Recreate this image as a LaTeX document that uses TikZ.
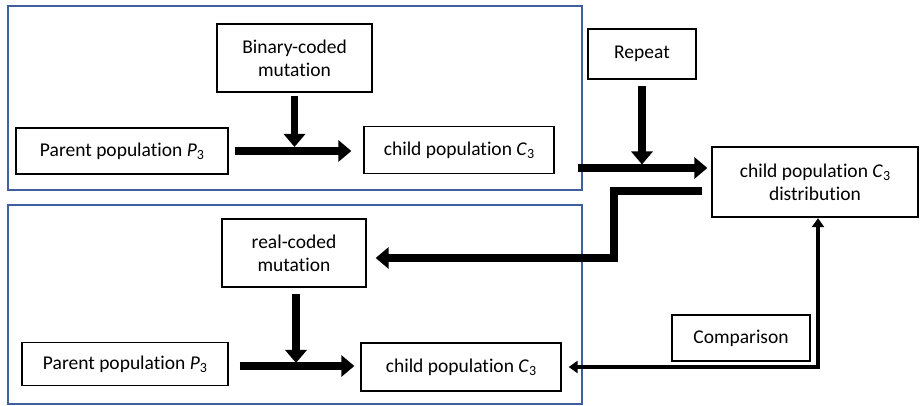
\documentclass[tikz,border=0pt]{standalone}
\usepackage{fontspec}
\setmainfont{Carlito}[Ligatures=NoCommon]
\usetikzlibrary{arrows.meta,calc}
\definecolor{framecol}{RGB}{62,96,158}
\newcommand\lowsub[1]{\raisebox{-0.35ex}{\fontsize{14}{14}\selectfont #1}}
\tikzset{
  box/.style={draw=black, line width=1.3pt, fill=white, align=center,
    inner sep=0pt, font=\fontsize{19.5}{23}\selectfont},
  frame/.style={draw=framecol, line width=2.9pt},
  bigarrow/.style={line width=7.5pt,
    -{Triangle[length=13pt,width=21pt]}},
  bigline/.style={line width=7.5pt},
  thinarrow/.style={line width=4pt,
    {Triangle[length=9pt,width=12pt]}-{Triangle[length=9pt,width=12pt]}},
}
\begin{document}
\begin{tikzpicture}[x=1pt,y=-1pt]
\useasboundingbox (0,0) rectangle (922,406);
\fill[white] (0,0) rectangle (922,406);

% the two stages
\draw[frame] (8,6) rectangle (582,190);
\draw[frame] (8,205) rectangle (582,404);

% upper stage: binary-coded
\node[box, minimum width=155, minimum height=68] (bin) at (294.5,58)
  {Binary-coded\\mutation};
\node[box, minimum width=212, minimum height=46] (par1) at (122,151)
  {Parent population \textit{P}\lowsub{3}};
\node[box, minimum width=190, minimum height=47] (ch1) at (459,150)
  {child population \textit{C}\lowsub{3}};

% right column
\node[box, minimum width=108, minimum height=50] (rep) at (642,54) {Repeat};
\node[box, minimum width=206, minimum height=70] (dist) at (815,182)
  {child population \textit{C}\lowsub{3}\\distribution};
\node[box, minimum width=138, minimum height=46] (cmp) at (741,338) {Comparison};

% lower stage: real-coded
\node[box, minimum width=144, minimum height=68] (real) at (294,253)
  {real-coded\\mutation};
\node[box, minimum width=206, minimum height=43] (par2) at (125,364)
  {Parent population \textit{P}\lowsub{3}};
\node[box, minimum width=200, minimum height=48] (ch2) at (461,367)
  {child population \textit{C}\lowsub{3}};

% connector anchors
\coordinate (out1) at (578,168);
\coordinate (rin) at (642,168);
\coordinate (ret1) at (707,191);
\coordinate (ret2) at (614,191);
\coordinate (ret3) at (614,258);
\coordinate (cmpc) at (818,367);

% upper stage arrows
\draw[bigarrow, shorten <=6pt, shorten >=12pt] (par1.east) -- (par1.east -| ch1.west);
\draw[bigarrow, shorten <=3pt, shorten >=4pt] (bin.south) -- (bin.south |- par1.east);

% into the distribution box
\draw[bigarrow, shorten >=4pt] (out1) -- (out1 -| dist.west);
\draw[bigarrow, shorten <=6pt, shorten >=3.5pt] (rep.south) -- (rin);

% back to the real-coded mutation
\draw[bigline] ([xshift=-5pt]ret1) -- (ret2) -- (ret3);
\draw[bigarrow, shorten >=9pt] ([xshift=3.75pt]ret3) -- (ret3 -| real.east);

% lower stage arrows
\draw[bigarrow, shorten <=11pt, shorten >=6pt] (par2.east -| par1.east) ++(0,2) coordinate (p2e) -- (p2e -| ch2.west);
\draw[bigarrow, shorten <=6pt, shorten >=3pt] ([xshift=2pt]real.south) -- ([xshift=2pt]real.south |- p2e);

% comparison loop
\draw[thinarrow, line join=miter, shorten <=0.5pt, shorten >=7pt]
  ([xshift=3pt]dist.south) -- (cmpc) -- (cmpc -| ch2.east);
\end{tikzpicture}
\end{document}
